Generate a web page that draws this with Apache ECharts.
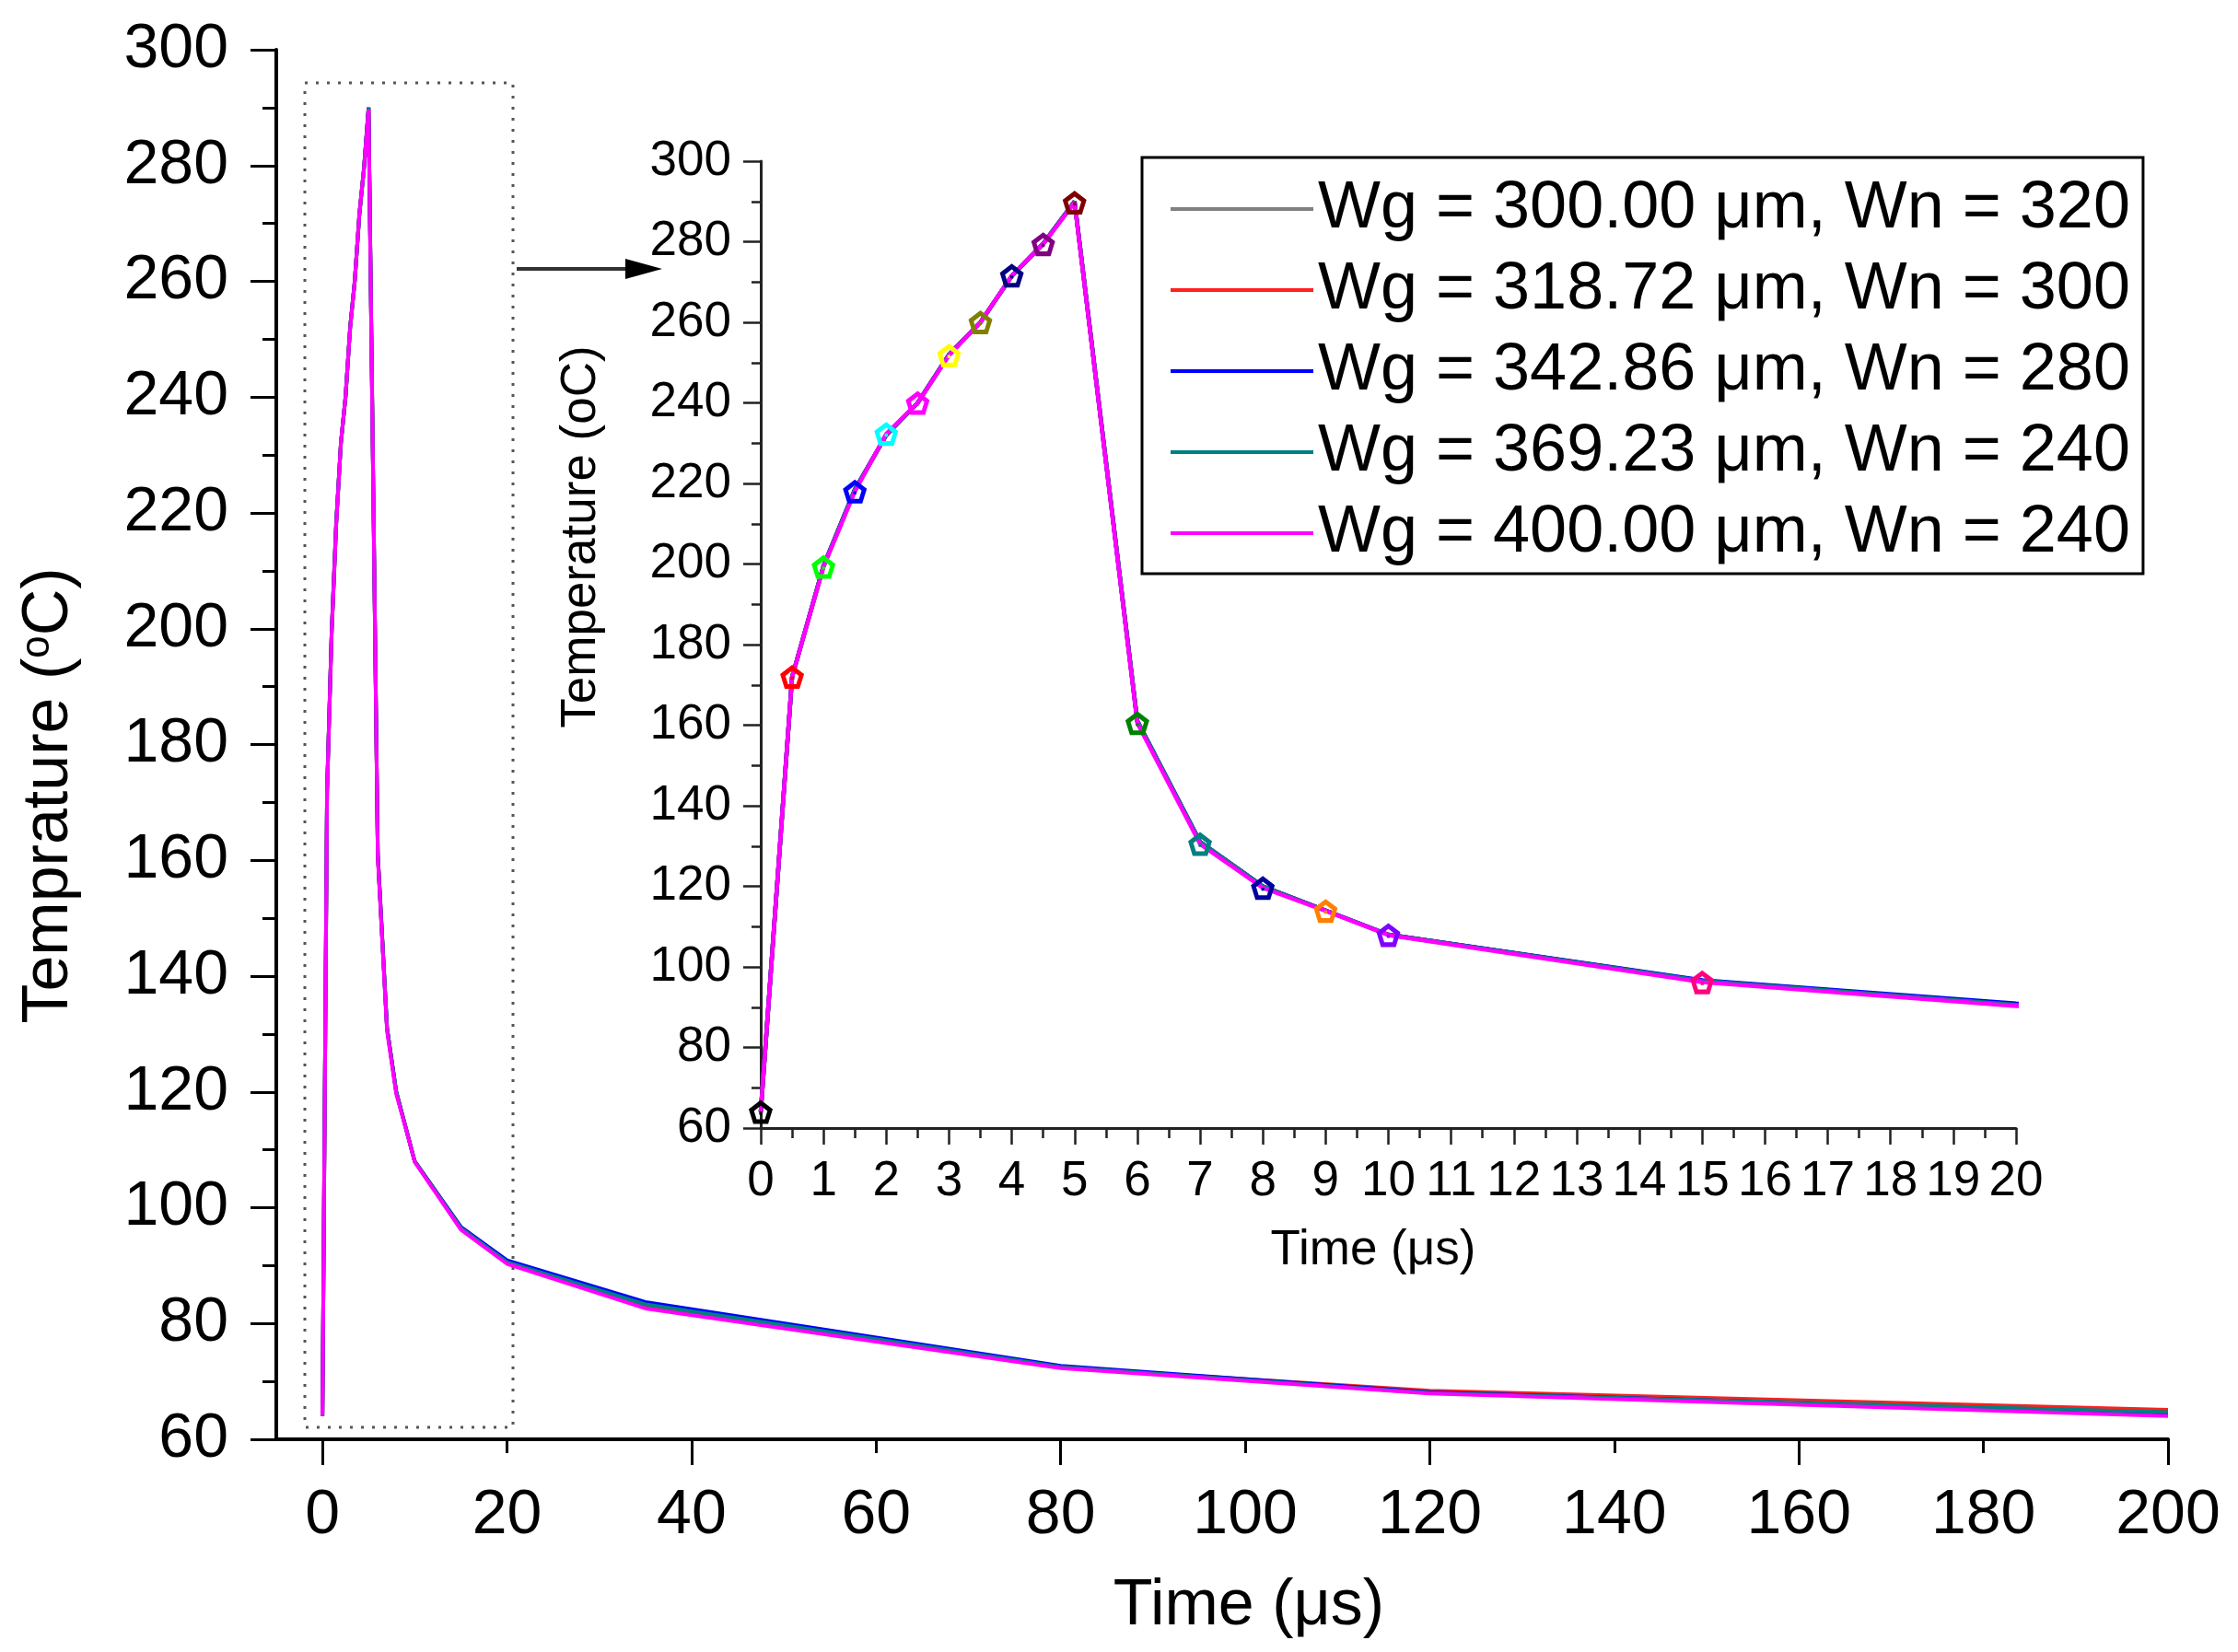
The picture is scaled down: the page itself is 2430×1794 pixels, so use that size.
<!DOCTYPE html>
<html>
<head>
<meta charset="utf-8">
<title>Temperature vs time</title>
<script src="https://cdn.jsdelivr.net/npm/echarts@6/dist/echarts.min.js"></script>
<style>
  html, body { margin: 0; padding: 0; background: #fff; }
  #chart { width: 2430px; height: 1794px; }
</style>
</head>
<body>
<div id="chart"></div>
<script>
    // data
    const timeUs = [0, 0.5, 1, 1.5, 2, 2.5, 3, 3.5, 4, 4.5, 5, 6, 7, 8, 9, 10, 15, 20, 35, 80, 120, 200];

    const wg300 = [64, 172, 199.5, 218.5, 232, 240, 252, 260, 271.5, 279.5, 290, 161, 131, 120, 114, 108, 96.5, 90.6, 83.2, 72.5, 68.2, 64.8];
    const wg318 = [64, 172, 199.5, 218.5, 232, 240, 252, 260, 271.5, 279.5, 290, 161, 131, 120, 114, 108, 96.6, 90.7, 83.0, 72.4, 68.4, 65.1];
    const wg342 = [64, 172, 199.5, 218.5, 232, 240, 252, 260, 271.5, 279.5, 290, 161, 131, 120, 114, 108, 96.7, 90.9, 83.7, 72.7, 68.1, 64.5];
    const wg369 = [64, 172, 199.5, 218.5, 232, 240, 252, 260, 271.5, 279.5, 290, 161, 131, 120, 114, 108, 96.5, 90.6, 83.3, 72.5, 68.0, 64.7];
    const wg400 = [64, 172, 199.3, 218, 232.3, 240, 251.8, 260, 271.6, 279.4, 289.7, 160.5, 130.5, 119.6, 113.9, 107.9, 96.2, 90.3, 82.6, 72.3, 67.9, 64.0];

    const seriesNames = [
        'Wg = 300.00 \u03bcm, Wn = 320',
        'Wg = 318.72 \u03bcm, Wn = 300',
        'Wg = 342.86 \u03bcm, Wn = 280',
        'Wg = 369.23 \u03bcm, Wn = 240',
        'Wg = 400.00 \u03bcm, Wn = 240'
    ];
    const seriesValues = [wg300, wg318, wg342, wg369, wg400];
    const seriesColors = ['#808080', '#ff2020', '#0000ff', '#008080', '#ff00ff'];

    // point colours of the inset markers (Origin colour increment)
    const markerColors = ['#000000', '#ff0000', '#00ff00', '#0000ff', '#00ffff', '#ff00ff', '#ffff00', '#808000',
        '#000080', '#800080', '#800000', '#008000', '#008080', '#0000a0', '#ff8000', '#8000ff', '#ff0080'];

    const mainXLabels = [0, 20, 40, 60, 80, 100, 120, 140, 160, 180, 200];
    const mainXMajor = [0, 40, 80, 120, 160, 200];
    const mainXMinor = [20, 60, 100, 140, 180];

    const FONT = 'Liberation Sans, Arial, sans-serif';
    // hollow pentagon with a dot in the middle
    const pentagon = 'path://M0,-10 L9.51,-3.09 L5.88,8.09 L-5.88,8.09 L-9.51,-3.09 Z ' +
        'M0,-5.6 L-5.33,-1.73 L-3.29,4.53 L3.29,4.53 L5.33,-1.73 Z ' +
        'M-1.2,-1.2 L1.2,-1.2 L1.2,1.2 L-1.2,1.2 Z';

    const chart = echarts.init(document.getElementById('chart'));

    const series = [];
    // main chart
    seriesValues.forEach((vals, k) => {
        series.push({
            name: seriesNames[k],
            type: 'line',
            xAxisIndex: 0,
            yAxisIndex: 0,
            showSymbol: false,
            data: timeUs.map((t, i) => [t, vals[i]]),
            lineStyle: { color: seriesColors[k], width: 4 },
            itemStyle: { color: seriesColors[k] },
            z: 3
        });
    });
    // inset (0-20 us)
    seriesValues.forEach((vals, k) => {
        const last = k === seriesValues.length - 1;
        series.push({
            name: seriesNames[k],
            type: 'line',
            xAxisIndex: 2,
            yAxisIndex: 1,
            clip: true,
            showSymbol: last,
            showAllSymbol: true,
            symbolSize: 26,
            data: timeUs.map((t, i) => {
                if (!last) return [t, vals[i]];
                return {
                    value: [t, vals[i]],
                    symbol: i < markerColors.length ? pentagon : 'none',
                    itemStyle: { color: markerColors[i] || seriesColors[k] }
                };
            }),
            lineStyle: { color: seriesColors[k], width: 4.5 },
            itemStyle: { color: seriesColors[k] },
            z: 5
        });
    });

    const option = {
        animation: false,
        backgroundColor: '#fff',
        grid: [
            { left: 300, top: 54, width: 2054, height: 1509 },
            { left: 826, top: 175, width: 1363, height: 1050 }
        ],
        legend: {
            data: seriesNames,
            orient: 'vertical',
            left: 1240,
            top: 171,
            icon: 'rect',
            itemWidth: 155,
            itemHeight: 4,
            itemGap: 16,
            padding: [20, 14, 8, 31],
            borderColor: '#000',
            borderWidth: 3,
            backgroundColor: '#fff',
            textStyle: { fontSize: 72, fontFamily: FONT, color: '#000', lineHeight: 72 },
            z: 10
        },
        xAxis: [
            {
                gridIndex: 0, type: 'value', min: -5, max: 200,
                axisLine: { show: true, onZero: false, lineStyle: { color: '#000', width: 4 } },
                axisTick: { show: true, customValues: mainXMinor, length: 15, lineStyle: { color: '#000', width: 3 } },
                axisLabel: { customValues: mainXLabels, margin: 49, fontSize: 68, fontFamily: FONT, color: '#000' },
                splitLine: { show: false }
            },
            {
                gridIndex: 0, type: 'value', min: -5, max: 200, position: 'bottom',
                axisLine: { show: false, onZero: false },
                axisTick: { show: true, customValues: mainXMajor, length: 28, lineStyle: { color: '#000', width: 3 } },
                axisLabel: { show: false },
                splitLine: { show: false }
            },
            {
                gridIndex: 1, type: 'value', min: 0, max: 20, interval: 1,
                axisLine: { show: true, onZero: false, lineStyle: { color: '#222', width: 3 } },
                axisTick: { show: true, length: 18, lineStyle: { color: '#222', width: 2.5 } },
                minorTick: { show: true, splitNumber: 2, length: 11, lineStyle: { color: '#222', width: 2.5 } },
                axisLabel: { margin: 32, fontSize: 53, fontFamily: FONT, color: '#000' },
                splitLine: { show: false }
            }
        ],
        yAxis: [
            {
                gridIndex: 0, type: 'value', min: 60, max: 300, interval: 20,
                axisLine: { show: true, onZero: false, lineStyle: { color: '#000', width: 4 } },
                axisTick: { show: true, length: 28, lineStyle: { color: '#000', width: 3 } },
                minorTick: { show: true, splitNumber: 2, length: 15, lineStyle: { color: '#000', width: 3 } },
                axisLabel: { margin: 52, fontSize: 68, fontFamily: FONT, color: '#000' },
                splitLine: { show: false }
            },
            {
                gridIndex: 1, type: 'value', min: 60, max: 300, interval: 20,
                axisLine: { show: true, onZero: false, lineStyle: { color: '#222', width: 3 } },
                axisTick: { show: true, length: 19, lineStyle: { color: '#222', width: 2.5 } },
                minorTick: { show: true, splitNumber: 2, length: 10, lineStyle: { color: '#222', width: 2.5 } },
                axisLabel: { margin: 32, fontSize: 53, fontFamily: FONT, color: '#000' },
                splitLine: { show: false }
            }
        ],
        graphic: [
            {
                type: 'text', x: 54, y: 864, rotation: Math.PI / 2,
                style: {
                    text: 'Temprature ({sup|o}C)',
                    fontSize: 70, fontFamily: FONT, fill: '#000',
                    align: 'center', verticalAlign: 'middle',
                    rich: { sup: { fontSize: 44, fontFamily: FONT, verticalAlign: 'top' } }
                }
            },
            {
                type: 'text', x: 1356, y: 1745,
                style: { text: 'Time (\u03bcs)', fontSize: 70, fontFamily: FONT, fill: '#000', align: 'center', verticalAlign: 'middle' }
            },
            {
                type: 'text', x: 1491, y: 1358,
                style: { text: 'Time (\u03bcs)', fontSize: 53, fontFamily: FONT, fill: '#000', align: 'center', verticalAlign: 'middle' }
            },
            {
                type: 'text', x: 631, y: 583, rotation: Math.PI / 2,
                style: { text: 'Temperature (oC)', fontSize: 53, fontFamily: FONT, fill: '#000', align: 'center', verticalAlign: 'middle' }
            },
            // zoom window in the main plot
            {
                type: 'rect', shape: { x: 331, y: 90, width: 226, height: 1460 },
                style: { fill: 'none', stroke: '#555', lineWidth: 3, lineDash: [3, 9] }
            },
            // arrow to the inset
            {
                type: 'line', shape: { x1: 561, y1: 292, x2: 685, y2: 292 },
                style: { stroke: '#333', lineWidth: 4 }
            },
            {
                type: 'polygon', shape: { points: [[679, 281], [719, 292], [679, 303]] },
                style: { fill: '#000' }
            }
        ],
        series: series
    };

    chart.setOption(option);
</script>
</body>
</html>
